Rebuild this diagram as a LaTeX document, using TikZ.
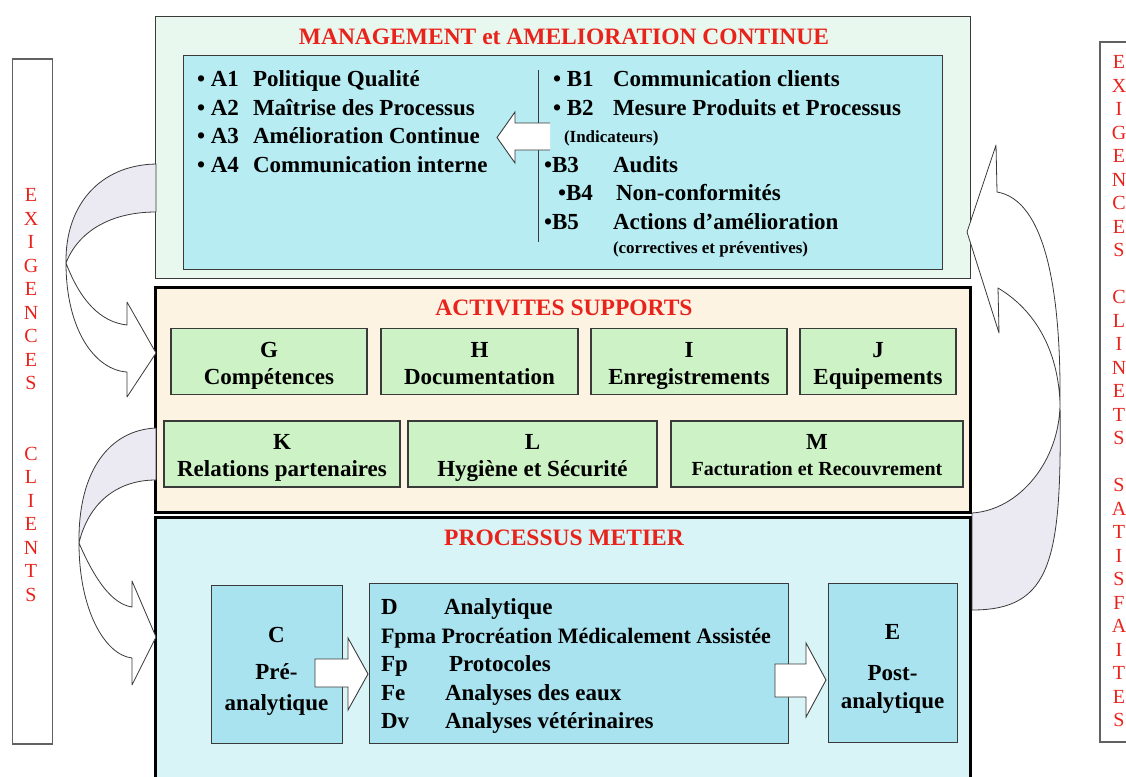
\documentclass[tikz,border=0pt]{standalone}
\usepackage{fontspec}
\setmainfont{Liberation Serif}
\definecolor{titlered}{HTML}{E8231C}
\definecolor{edge}{HTML}{3A3A3A}
\definecolor{mgmtbg}{HTML}{E8F8EE}
\definecolor{mgmtin}{HTML}{B6ECF2}
\definecolor{suppbg}{HTML}{FCF3E3}
\definecolor{suppbox}{HTML}{CDF2C5}
\definecolor{metbg}{HTML}{D9F4F7}
\definecolor{metbox}{HTML}{A8E3EF}
\definecolor{backface}{HTML}{EBEAF2}

\begin{document}
\begin{tikzpicture}[x=1pt,y=-1pt]
      \tikzstyle{every node}=[inner sep=0pt, outer sep=0pt]
      \tikzstyle{frame}=[draw=edge, line width=1pt, anchor=north west]
      \tikzstyle{heavy}=[draw=black, line width=3pt, anchor=north west]
      \tikzstyle{bar}=[draw=edge!80, line width=1.2pt, minimum width=40pt]
      \tikzstyle{title}=[text=titlered, font=\fontsize{23.5}{27}\selectfont\bfseries]
      \tikzstyle{item}=[anchor=base west, font=\fontsize{23}{27}\selectfont\bfseries]
      \tikzstyle{small}=[anchor=base west, font=\fontsize{17}{20}\selectfont\bfseries]
      \tikzstyle{lbl}=[anchor=base, font=\fontsize{23}{27}\selectfont\bfseries]
      \tikzstyle{supp}=[draw=edge, line width=1.2pt, fill=suppbox]
      \tikzstyle{letter}=[text=titlered, font=\fontsize{20}{24}\selectfont]
      \tikzstyle{ribbon}=[draw=edge, line width=0.8pt, line join=round]
      \tikzstyle{hollow}=[draw=edge, line width=0.9pt, fill=white]

      \useasboundingbox (0,0) rectangle (1126,776);

      \node[bar, minimum height=685pt] (leftbar) at (32.5,401.5) {};
      \node[bar, minimum height=700pt] (rightbar) at (1120,392) {};

      \foreach \ch [count=\i] in {E,X,I,G,E,N,C,E,S,{},{},C,L,I,E,N,T,S}
      {
        \path (31,{195+(\i-1)*23.5}) node[letter] (lx\i) {\ch};
      }
      \foreach \ch [count=\i] in {E,X,I,G,E,N,C,E,S,{},C,L,I,N,E,T,S,{},S,A,T,I,S,F,A,I,T,E,S}
      {
        \path (1119,{62+(\i-1)*23.5}) node[letter] (rx\i) {\ch};
      }

      \node[frame, fill=mgmtbg, minimum width=815pt, minimum height=261pt] (mgmt) at (155,17) {};
      \node[title] (mgmttitle) at (564,37) {MANAGEMENT et AMELIORATION CONTINUE};
      \node[frame, fill=mgmtin, minimum width=759pt, minimum height=213pt] (mgmtin) at (183,56) {};
      \draw[edge, line width=1pt] (538,70) -- (538,242);

      \fill[white] (550,123) -- (515,123) -- (515,112) -- (497,137.5) -- (515,163) -- (515,150) -- (550,150) -- cycle;
      \draw[edge, line width=0.9pt] (550,123) -- (515,123) -- (515,112) -- (497,137.5) -- (515,163) -- (515,150) -- (550,150);

      \foreach \code/\txt [count=\i] in {A1/Politique Qualité, A2/Maîtrise des Processus, A3/Amélioration Continue, A4/Communication interne}
      {
        \path (197,{86.6+(\i-1)*28.5}) node[item] (a\i) {\textbullet\ \code};
        \path (253,{86.6+(\i-1)*28.5}) node[item] (at\i) {\txt};
      }
      \foreach \code/\cx/\txt/\tx/\cy [count=\i] in {{\textbullet\ B1}/553/Communication clients/613/79, {\textbullet\ B2}/553/Mesure Produits et Processus/613/107.5, {\textbullet B3}/544/Audits/613/164.5, {\textbullet B4}/558/Non-conformités/616/193, {\textbullet B5}/544/Actions d’amélioration/613/221.5}
      {
        \path (\cx,{\cy+7.6}) node[item] (b\i) {\code};
        \path (\tx,{\cy+7.6}) node[item] (bt\i) {\txt};
      }
      \node[small] (ind) at (564,142.8) {(Indicateurs)};
      \node[small] (corr) at (613,253.8) {(correctives et préventives)};

      \node[heavy, fill=suppbg, minimum width=815pt, minimum height=225pt] (supp) at (155,287) {};
      \node[title] (supptitle) at (564,308) {ACTIVITES SUPPORTS};
      \foreach \n/\cx/\cy/\w/\lab/\txt in {g/269/361.5/196/G/Compétences, h/479.5/361.5/197/H/Documentation, i/689/361.5/196/I/Enregistrements, j/878/361.5/156/J/Equipements, k/282/454/236/K/Relations partenaires, l/532.5/454/249/L/Hygiène et Sécurité}
      {
        \node[supp, minimum width=\w pt, minimum height=66pt] (\n) at (\cx,\cy) {};
        \node[lbl] (\n1) at (\cx,{\cy-12+7.6}) {\lab};
        \node[lbl] (\n2) at (\cx,{\cy+15+7.6}) {\txt};
      }
      \node[supp, minimum width=292pt, minimum height=66pt] (m) at (817,454) {};
      \node[lbl] (m1) at (817,449.6) {M};
      \node[lbl, font=\fontsize{20}{24}\selectfont\bfseries] (m2) at (817,475.6) {Facturation et Recouvrement};

      \node[heavy, fill=metbg, minimum width=815pt, minimum height=290pt] (metier) at (155,517) {};
      \node[title] (mettitle) at (564,538) {PROCESSUS METIER};

      \node[frame, anchor=center, fill=metbox, minimum width=131pt, minimum height=158pt] (c) at (276.5,664) {};
      \node[frame, anchor=center, fill=metbox, minimum width=419pt, minimum height=160pt] (d) at (578.5,663) {};
      \node[frame, anchor=center, fill=metbox, minimum width=129pt, minimum height=159pt] (e) at (892.5,662.5) {};

      \node[lbl] (c1) at (276.5,642.6) {C};
      \node[lbl] (c2) at (276.5,679.6) {Pré-};
      \node[lbl] (c3) at (276.5,710.6) {analytique};
      \node[lbl] (e1) at (892.5,639.6) {E};
      \node[lbl] (e2) at (892.5,680.6) {Post-};
      \node[lbl] (e3) at (892.5,708.6) {analytique};

      \foreach \code/\txt/\tx [count=\i] in {D/Analytique/444, {}/{}/445, Fp/Protocoles/449, Fe/Analyses des eaux/445, Dv/Analyses vétérinaires/445}
      {
        \path (381,{614.6+(\i-1)*28.5}) node[item] (dk\i) {\code};
        \path (\tx,{614.6+(\i-1)*28.5}) node[item] (dt\i) {\txt};
      }
      \node[item, font=\fontsize{22}{26}\selectfont\bfseries] (fpma) at (381,643.1) {Fpma Procréation Médicalement Assistée};

      \draw[hollow] (315,659) -- (348,659) -- (348,638) -- (368,674) -- (348,710) -- (348,687) -- (315,687) -- cycle;
      \draw[hollow] (775,664) -- (806,664) -- (806,643) -- (826,680) -- (806,717) -- (806,697) -- (775,697) -- cycle;

      \path[ribbon, fill=backface] (156,164) .. controls (100,165) and (65,205) .. (66,263)
        .. controls (78,232) and (110,212) .. (156,212) -- cycle;
      \path[ribbon, fill=white] (66,263) .. controls (66,330) and (95,370) .. (127,372)
        -- (127,397) -- (156,353) -- (127,302) -- (127,325)
        .. controls (100,322) and (80,300) .. (66,263) -- cycle;

      \path[ribbon, fill=backface] (156,428) .. controls (110,430) and (78,470) .. (79,543)
        .. controls (88,505) and (115,480) .. (156,480) -- cycle;
      \path[ribbon, fill=white] (79,543) .. controls (79,610) and (105,655) .. (132,658)
        -- (132,685) -- (156,637) -- (132,581) -- (132,607)
        .. controls (112,604) and (95,580) .. (79,543) -- cycle;

      \path[ribbon, fill=backface] (1060,403) .. controls (1060,460) and (1020,510) .. (972,513)
        -- (972,610) .. controls (1052,610) and (1062,560) .. (1060,403) -- cycle;
      \path[ribbon, fill=white] (1060,403) .. controls (1061,290) and (1045,200) .. (997,192)
        -- (996,145) -- (967,232) -- (999,333) -- (998,288)
        .. controls (1035,310) and (1058,350) .. (1060,403) -- cycle;
    \end{tikzpicture}
\end{document}
